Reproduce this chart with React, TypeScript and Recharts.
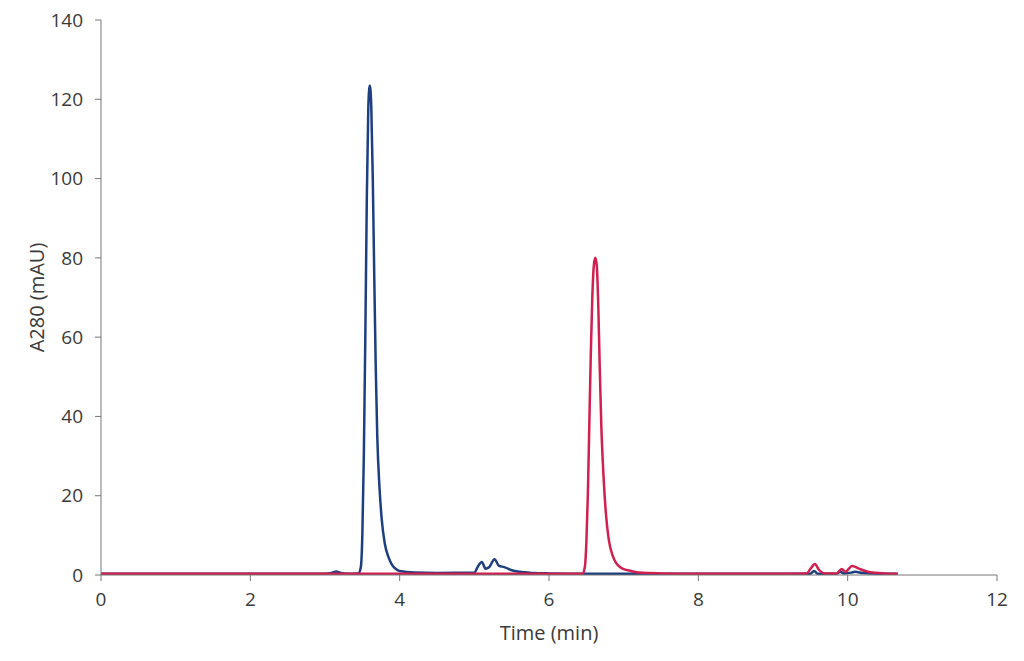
import React from 'react';
import { LineChart, Line, XAxis, YAxis, Label } from 'recharts';

// retention time (min) and absorbance (mAU)
const blueTimes = [
  0, 1, 2, 3, 3.1, 3.15, 3.2, 3.3, 3.45, 3.48, 3.5, 3.52, 3.54, 3.56, 3.58, 3.6,
  3.62, 3.64, 3.66, 3.68, 3.7, 3.73, 3.76, 3.8, 3.85, 3.9, 3.95, 4.0, 4.2, 4.5,
  5.0, 5.05, 5.1, 5.15, 5.2, 5.27, 5.33, 5.4, 5.5, 5.6, 5.8, 6.0, 6.5, 7.0, 8.0,
  9.0, 9.5, 9.55, 9.6, 9.85, 9.9, 9.95, 10.05, 10.1, 10.2, 10.4, 10.67,
];
const blueValues = [
  0.3, 0.3, 0.3, 0.3, 0.6, 0.9, 0.6, 0.3, 0.4, 2, 10, 30, 60, 95, 118, 123.5,
  118, 100, 75, 52, 35, 22, 14, 8, 4.5, 2.5, 1.5, 1.0, 0.6, 0.5,
  0.6, 2.2, 3.3, 1.6, 2.0, 4.0, 2.3, 2.0, 1.2, 0.8, 0.5, 0.4, 0.3, 0.3, 0.3,
  0.3, 0.3, 1.0, 0.3, 0.3, 0.8, 0.4, 0.6, 0.8, 0.5, 0.3, 0.3,
];

const redTimes = [
  0, 2, 4, 6, 6.45, 6.48, 6.5, 6.52, 6.54, 6.56, 6.58, 6.6, 6.62, 6.64, 6.66,
  6.68, 6.7, 6.73, 6.76, 6.8, 6.85, 6.9, 6.95, 7.0, 7.1, 7.2, 7.5, 8.0, 9.0,
  9.45, 9.5, 9.56, 9.62, 9.7, 9.85, 9.92, 9.97, 10.06, 10.15, 10.3, 10.5, 10.67,
];
const redValues = [
  0.3, 0.3, 0.3, 0.3, 0.3, 2, 8, 20, 38, 56, 70, 78, 80, 78, 68,
  52, 38, 25, 16, 9, 5, 3, 2, 1.5, 1.0, 0.6, 0.4, 0.3, 0.3,
  0.4, 1.5, 2.8, 1.2, 0.4, 0.4, 1.5, 0.8, 2.3, 1.6, 0.7, 0.4, 0.3,
];

const xTicks = [0, 2, 4, 6, 8, 10, 12];
const yTicks = [0, 20, 40, 60, 80, 100, 120, 140];

const blueData = blueTimes.map((t, i) => ({ time: t, value: blueValues[i] }));
const redData = redTimes.map((t, i) => ({ time: t, value: redValues[i] }));

const FONT = '"Open Sans", "Liberation Sans", Arial, sans-serif';
const AXIS_COLOR = '#777777';
const TEXT_COLOR = '#3a3a3a';

const YTitle = (props: any) => {
  const { viewBox } = props;
  const x = viewBox.x + 16;
  const y = viewBox.y + viewBox.height / 2;
  return (
    <text
      x={x}
      y={y}
      transform={`rotate(-90 ${x} ${y})`}
      textAnchor="middle"
      dominantBaseline="central"
      fontFamily={FONT}
      fontSize={20}
      fill={TEXT_COLOR}
    >
      A280 (mAU)
    </text>
  );
};

const App = () => {
  return (
    <div style={{ position: 'absolute', left: 0, top: 0, background: '#fff' }}>
      <LineChart
        width={1024}
        height={661}
        margin={{ top: 20, right: 27, bottom: 16, left: 20 }}
      >
        <XAxis
          type="number"
          dataKey="time"
          domain={[0, 12]}
          ticks={xTicks}
          allowDataOverflow
          height={70}
          stroke={AXIS_COLOR}
          tickSize={6}
          tickMargin={12}
          tick={{ fill: TEXT_COLOR, fontSize: 19, fontFamily: FONT }}
        >
          <Label
            value="Time (min)"
            position="insideBottom"
            offset={5}
            style={{ fill: TEXT_COLOR, fontSize: 20, fontFamily: FONT }}
          />
        </XAxis>
        <YAxis
          type="number"
          domain={[0, 140]}
          ticks={yTicks}
          width={81}
          stroke={AXIS_COLOR}
          tickSize={6}
          tickMargin={12}
          tick={{ fill: TEXT_COLOR, fontSize: 19, fontFamily: FONT }}
        >
          <Label content={<YTitle />} />
        </YAxis>
        <Line
          data={blueData}
          dataKey="value"
          type="monotone"
          stroke="#1d3f80"
          strokeWidth={2.5}
          dot={false}
          isAnimationActive={false}
        />
        <Line
          data={redData}
          dataKey="value"
          type="monotone"
          stroke="#d11f4f"
          strokeWidth={2.5}
          dot={false}
          isAnimationActive={false}
        />
      </LineChart>
    </div>
  );
};

export default App;
